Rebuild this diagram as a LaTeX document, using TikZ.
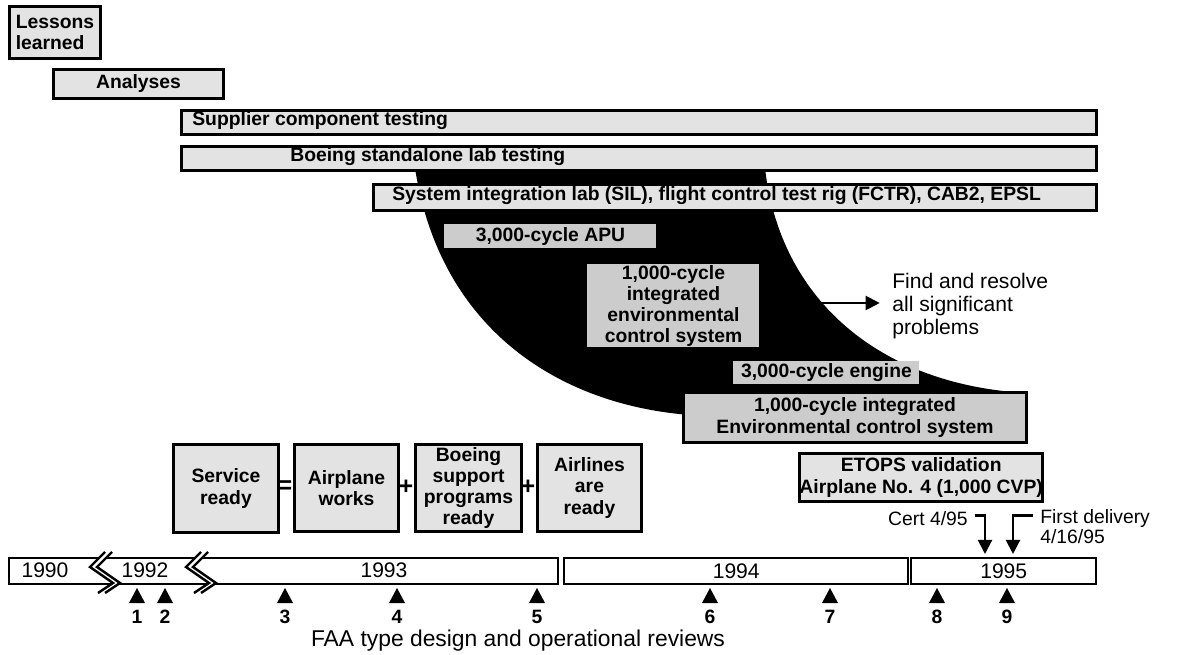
\documentclass[tikz,border=0pt]{standalone}
\usepackage{fontspec}
\setmainfont{Liberation Sans}
\usepackage{tikz}
\usetikzlibrary{arrows.meta, positioning}
\newcommand{\pw}{0.02cm}
\tikzstyle{box} = [draw, line width=1.7pt, fill=gray!22, inner sep=0pt, anchor=north west, font=\fontsize{11}{12}\selectfont\bfseries, align=center]
\tikzstyle{darkbox} = [box, fill=gray!40]
\tikzstyle{boxtext} = [inner sep=0pt, anchor=west, font=\fontsize{11}{12}\selectfont\bfseries]
\tikzstyle{yearbar} = [draw, line width=1.4pt, fill=white, inner sep=0pt, anchor=north west, font=\fontsize{12}{14}\selectfont]
\tikzstyle{lbl} = [inner sep=0pt, font=\fontsize{12}{13}\selectfont]
\tikzstyle{arrow} = [line width=1.2pt,-{Triangle[length=8pt,width=8pt]}]
\newcommand{\brk}[1]{%
  \fill[white] (#1+15,552) -- (#1,567) -- (#1+23,583) -- (#1+8,593) -- (#1+15,593) -- (#1+30,583) -- (#1+7,567) -- (#1+22,552) -- cycle;
  \draw[line width=1.4pt] (#1+15,552) -- (#1,567) -- (#1+23,583) -- (#1+8,593);
  \draw[line width=1.4pt] (#1+22,552) -- (#1+7,567) -- (#1+30,583) -- (#1+15,593);
}

\begin{document}
\begin{tikzpicture}[x=0.02cm,y=-0.02cm]
	\useasboundingbox (0,0) rectangle (1198,655);
	% The black funnel behind the test boxes
	\fill[black] (415,168) .. controls (440,330) and (560,405) .. (690,415) -- (1027,415) -- (1027,393) .. controls (880,385) and (780,300) .. (765,168) -- cycle;

	% Bars at the top
	\node[box, minimum width=91*\pw, minimum height=52*\pw, align=left] (lessons) at (8,5) {Lessons\\learned};
	\node[box, minimum width=170*\pw, minimum height=29*\pw] (analyses) at (52,68) {Analyses};
	\node[box, minimum width=915*\pw, minimum height=24*\pw] (supplier) at (180,109) {};
	\node[boxtext] (supplierT) at (192,121) {Supplier component testing};
	\node[box, minimum width=915*\pw, minimum height=24*\pw] (standalone) at (180,145) {};
	\node[boxtext] (standaloneT) at (290,157) {Boeing standalone lab testing};
	\node[box, minimum width=723*\pw, minimum height=26*\pw] (sil) at (372,183) {};
	\node[boxtext] (silT) at (392,196) {System integration lab (SIL), flight control test rig (FCTR), CAB2, EPSL};

	% Boxes inside the funnel
	\node[darkbox, draw=none, minimum width=212*\pw, minimum height=24*\pw] (apu) at (443,223) {3,000-cycle APU};
	\node[darkbox, draw=none, minimum width=172*\pw, minimum height=83*\pw] (ecs) at (586,263) {1,000-cycle\\integrated\\environmental\\control system};
	\node[darkbox, draw=none, minimum width=186*\pw, minimum height=23*\pw] (engine) at (732,360) {3,000-cycle engine};
	\node[darkbox, minimum width=343*\pw, minimum height=50*\pw] (iecs) at (682,391) {1,000-cycle integrated\\Environmental control system};
	\node[box, minimum width=235*\pw, minimum height=48*\pw] (etops) at (798,452) {ETOPS validation\\Airplane No. 4 (1,000 CVP)};

	% Find and resolve
	\coordinate (edge) at (818,303);
	\node[lbl, anchor=west, align=left] (find) at (892,306) {Find and resolve\\all significant\\problems};
	\draw[arrow, shorten >=7pt] (edge) -- (edge -| find.west);

	% Service ready = ...
	\node[box, minimum width=105*\pw, minimum height=88*\pw] (service) at (172,443) {Service\\ready};
	\node[box, minimum width=104*\pw, minimum height=87*\pw] (works) at (293,443) {Airplane\\works};
	\node[box, minimum width=106*\pw, minimum height=87*\pw] (support) at (414,443) {Boeing\\support\\programs\\ready};
	\node[box, minimum width=104*\pw, minimum height=87*\pw] (airlines) at (536,443) {Airlines\\are\\ready};
	\node[boxtext, anchor=center, font=\fontsize{14}{14}\selectfont\bfseries] (eq) at (285,487) {=};
	\node[boxtext, anchor=center, font=\fontsize{14}{14}\selectfont\bfseries] (plusA) at (406,487) {+};
	\node[boxtext, anchor=center, font=\fontsize{14}{14}\selectfont\bfseries] (plusB) at (528,487) {+};

	% Time line
	\node[yearbar, minimum width=549*\pw, minimum height=26*\pw] (early) at (8,557) {};
	\brk{90}
	\brk{186}
	\node[lbl] (y90) at (45,570) {1990};
	\node[lbl] (y92) at (145,570) {1992};
	\node[lbl] (y93) at (384,570) {1993};
	\node[yearbar, minimum width=344*\pw, minimum height=26*\pw] (y94) at (563,557) {1994};
	\node[yearbar, minimum width=185*\pw, minimum height=26*\pw] (y95) at (910,557) {1995};

	% Certification and delivery
	\node[lbl, anchor=east, font=\fontsize{11}{12}\selectfont] (cert) at (968,519) {Cert 4/95};
	\coordinate (certtip) at (985,554);
	\draw[arrow] ([xshift=4pt,yshift=2pt]cert.east) -| (certtip);
	\node[lbl, anchor=west, font=\fontsize{11}{12}\selectfont] (fdel) at (1040,519) {First delivery};
	\node[lbl, anchor=west, font=\fontsize{11}{12}\selectfont] (fdate) at (1040,537) {4/16/95};
	\coordinate (fdtip) at (1013,554);
	\draw[arrow] ([xshift=-4pt,yshift=2pt]fdel.west) -| (fdtip);

	% FAA reviews
	\foreach \x/\n in {137/1,165/2,285/3,397/4,537/5,710/6,830/7,937/8,1007/9}{
		\fill (\x-8,603) -- (\x+8,603) -- (\x,588) -- cycle;
		\node[lbl, font=\fontsize{11}{12}\selectfont\bfseries] (r\n) at (\x,617) {\n};
	}
	\node[lbl, font=\fontsize{13}{14}\selectfont] (faa) at (518,641) {FAA type design and operational reviews};
\end{tikzpicture}
\end{document}
